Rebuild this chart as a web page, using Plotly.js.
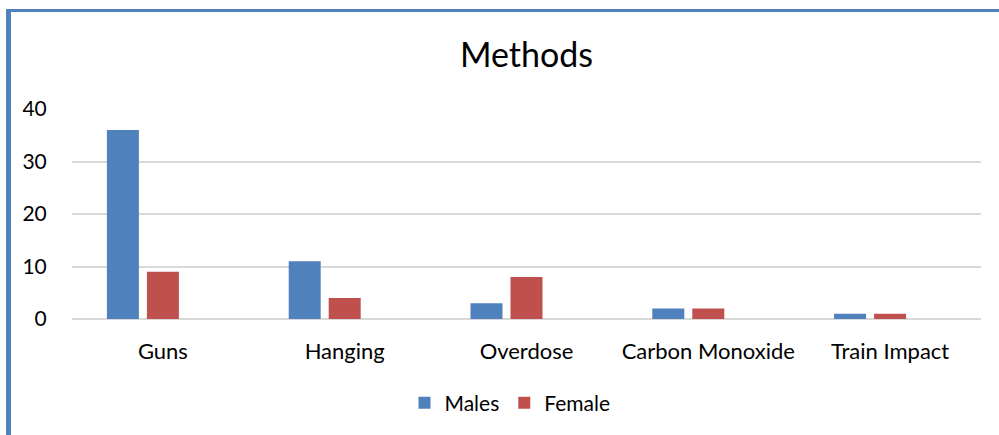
<!DOCTYPE html>
<html>
<head>
<meta charset="utf-8">
<script src="https://cdn.plot.ly/plotly-3.0.1.min.js"></script>
<style>
html,body{margin:0;padding:0;background:#fff;}
#chart{width:999px;height:435px;}
</style>
</head>
<body>
<div id="chart"></div>
<script>
const categories = ["Guns", "Hanging", "Overdose", "Carbon Monoxide", "Train Impact"];
const males = [36, 11, 3, 2, 1];
const female = [9, 4, 8, 2, 1];
const yTicks = [0, 10, 20, 30, 40];

const W = 999, H = 435;
const mL = 72, mR = 18, mT = 109, mB = 116;
const pw = W - mL - mR, ph = H - mT - mB;
const px = v => (v - mL) / pw;
const py = v => (H - mB - v) / ph;
const catW = pw / categories.length;

const font = "Lato, 'Open Sans', sans-serif";

const traces = [
  {type: 'bar', name: 'Males', x: categories, y: males, marker: {color: '#4F81BD'},
   width: 32 / catW, offset: -56 / catW},
  {type: 'bar', name: 'Female', x: categories, y: female, marker: {color: '#C0504D'},
   width: 32 / catW, offset: -16 / catW}
];

const layout = {
  width: W, height: H,
  margin: {l: mL, r: mR, t: mT, b: mB, pad: 0},
  paper_bgcolor: '#fff', plot_bgcolor: '#fff',
  font: {family: font, size: 21, color: '#000'},
  title: {text: 'Methods', font: {family: font, size: 34, color: '#000'}, x: 0.5, xanchor: 'center', y: 1 - 55 / H, yanchor: 'middle', xref: 'paper'},
  barmode: 'overlay',
  showlegend: true,
  legend: {orientation: 'h', x: px(510), xanchor: 'center', y: py(403), yanchor: 'middle', font: {family: font, size: 21}, itemwidth: 30, traceorder: 'normal'},
  xaxis: {
    type: 'category', showgrid: false, zeroline: false, showline: false,
    ticks: 'outside', ticklen: 13, tickcolor: 'rgba(0,0,0,0)',
    tickfont: {family: font, size: 22}
  },
  yaxis: {
    range: [0, 40], tickvals: yTicks, ticktext: yTicks.map(String),
    showgrid: true, gridcolor: '#D9D9D9', gridwidth: 2,
    zeroline: true, zerolinecolor: '#D9D9D9', zerolinewidth: 2, showline: false,
    ticks: 'outside', ticklen: 20, tickcolor: 'rgba(0,0,0,0)',
    tickfont: {family: font, size: 21}
  },
  shapes: [
    {type: 'line', xref: 'paper', yref: 'paper', x0: px(8.5), x1: px(8.5), y0: py(9), y1: py(440), line: {color: '#4F81BD', width: 5}},
    {type: 'line', xref: 'paper', yref: 'paper', x0: px(6), x1: px(1005), y0: py(10.5), y1: py(10.5), line: {color: '#4F81BD', width: 3}}
  ]
};

Plotly.newPlot('chart', traces, layout, {displayModeBar: false, staticPlot: true});
</script>
</body>
</html>
